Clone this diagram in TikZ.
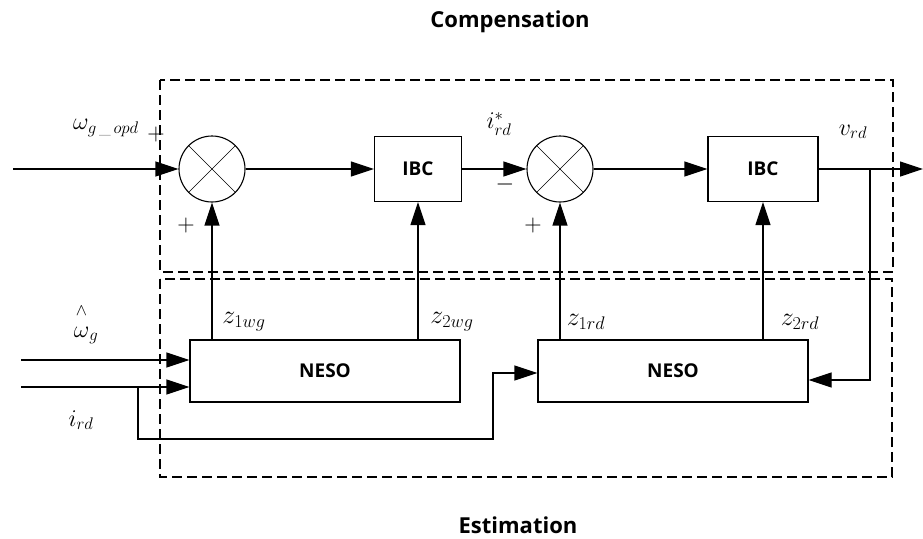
\RequirePackage{fix-cm}
\documentclass[tikz,border=0pt]{standalone}
\usepackage{amsmath}
\usepackage{fontspec}
\newfontfamily\blockfont{Open Sans}
\usetikzlibrary{arrows.meta,positioning}

\begin{document}
\begin{tikzpicture}[
  x=1pt, y=-1pt,
  blk/.style={rectangle, draw, line width=1.2pt, minimum height=65pt, font=\blockfont\bfseries\fontsize{19}{22}\selectfont},
  sumnode/.style={circle, draw, line width=1.1pt, minimum size=66pt, inner sep=0pt},
  grp/.style={draw, line width=1.3pt, dash pattern=on 10pt off 5pt},
  arr/.style={-{Triangle[length=23pt, width=15pt]}, line width=1.2pt},
  lbl/.style={font=\fontsize{24}{28}\selectfont},
  sgn/.style={font=\fontsize{24}{28}\selectfont},
  title/.style={font=\blockfont\bfseries\fontsize{22}{26}\selectfont}
]
\useasboundingbox (0,0) rectangle (923,538);

% group frames
\draw[grp] (160,80) rectangle (893,272);
\draw[grp] (160,279) rectangle (892,477);
\node[title] (comp) at (510,22) {Compensation};
\node[title] (est) at (518,525) {Estimation};

% blocks
\node[sumnode] (sum1) at (212,169) {};
\node[blk, minimum width=87pt] (ibc1) at (418,169) {IBC};
\node[sumnode] (sum2) at (560,169) {};
\node[blk, minimum width=110pt] (ibc2) at (763,169) {IBC};
\node[blk, minimum width=270pt, minimum height=62pt] (neso1) at (325,371) {NESO};
\node[blk, minimum width=270pt, minimum height=62pt] (neso2) at (673,371) {NESO};
\foreach \s in {sum1,sum2} {
  \draw (\s.north west) -- (\s.south east);
  \draw (\s.north east) -- (\s.south west);
}

% free ends
\coordinate (in1) at (13,169);
\coordinate (out) at (923,169);
\coordinate (tap) at (870,169);
\coordinate (in2) at (21,360);
\coordinate (in3) at (21,387);
\coordinate (br) at (138,387);
\coordinate (turn) at (493,439);

% forward path
\draw[arr] (in1) -- (sum1);
\draw[arr] (sum1) -- (ibc1);
\draw[arr] (ibc1) -- (sum2);
\draw[arr] (sum2) -- (ibc2);
\draw[arr] (ibc2) -- (out);
\draw[arr] (tap) |- ([yshift=-9pt]neso2.east);

% observer outputs
\draw[arr] (neso1.north -| sum1) -- (sum1);
\draw[arr] (neso1.north -| ibc1) -- (ibc1);
\draw[arr] (neso2.north -| sum2) -- (sum2);
\draw[arr] (neso2.north -| ibc2) -- (ibc2);

% observer inputs
\draw[arr] (in2) -- (in2 -| neso1.west);
\draw[arr] (in3) -- (in3 -| neso1.west);
\draw[arr] (br) -- (br |- turn) -- (turn) |- ([yshift=-2pt]neso2.west);

% labels
\node[lbl] (wref) at (106,128) {$\omega_{g\,\_\,opd}$};
\node[sgn] (p0) at (156,134) {$+$};
\node[sgn] (p1) at (186,225) {$+$};
\node[sgn] (m2) at (505,184) {$-$};
\node[sgn] (p2) at (533,225) {$+$};
\node[lbl] (iref) at (499,124) {$i^{*}_{rd}$};
\node[lbl] (vrd) at (853,132) {$v_{rd}$};
\node[lbl, font=\fontsize{26}{30}\selectfont] (z1wg) at (244,322) {$z_{1wg}$};
\node[lbl, font=\fontsize{26}{30}\selectfont] (z2wg) at (452,322) {$z_{2wg}$};
\node[lbl, font=\fontsize{26}{30}\selectfont] (z1rd) at (586,322) {$z_{1rd}$};
\node[lbl, font=\fontsize{26}{30}\selectfont] (z2rd) at (800,322) {$z_{2rd}$};
\node[lbl] (what) at (86,324) {$\overset{\wedge}{\vphantom{l}\omega}_{g}$};
\node[lbl] (ird) at (81,420) {$i_{rd}$};
\end{tikzpicture}
\end{document}
